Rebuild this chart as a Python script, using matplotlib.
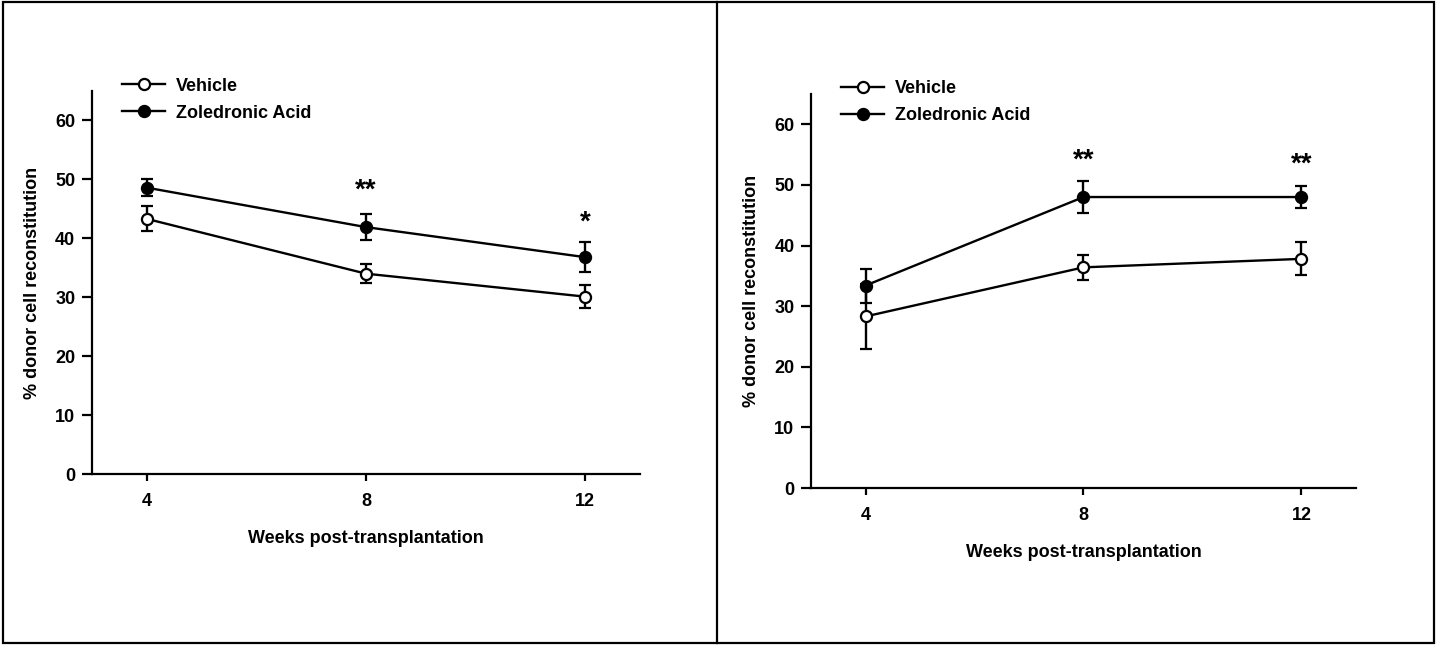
import numpy as np
import matplotlib
matplotlib.use("Agg")
import matplotlib.pyplot as plt
from matplotlib.lines import Line2D

plt.rcParams['font.family'] = ['Liberation Sans', 'DejaVu Sans']
plt.rcParams['font.weight'] = 'bold'

weeks = [4, 8, 12]

# left panel
veh_a = [43.3, 34.0, 30.1]
veh_a_err = [2.1, 1.6, 2.0]
zol_a = [48.6, 41.9, 36.8]
zol_a_err = [1.5, 2.2, 2.5]
stars_a = [(8, 48.1, '**'), (12, 42.7, '*')]

# right panel
veh_b = [28.3, 36.4, 37.8]
veh_b_err = [5.4, 2.1, 2.7]
zol_b = [33.4, 48.0, 48.0]
zol_b_err = [2.8, 2.7, 1.8]
stars_b = [(8, 54.0, '**'), (12, 53.4, '**')]

yticks = [0, 10, 20, 30, 40, 50, 60]


def draw(ax, veh, veh_err, zol, zol_err, stars):
    kw = dict(color='black', lw=1.7, elinewidth=1.7, capsize=4.5, capthick=1.7,
              markersize=8, markeredgewidth=1.6, markeredgecolor='black')
    ax.errorbar(weeks, veh, yerr=veh_err, fmt='-o', markerfacecolor='white', zorder=2, **kw)
    ax.errorbar(weeks, zol, yerr=zol_err, fmt='-o', markerfacecolor='black', zorder=3, **kw)
    for x, y, s in stars:
        ax.text(x, y, s, ha='center', va='center', fontsize=20, fontweight='bold')

    ax.set_xlim(3, 13)
    ax.set_ylim(0, 65)
    ax.set_xticks(weeks)
    ax.set_yticks(yticks)
    ax.spines['top'].set_visible(False)
    ax.spines['right'].set_visible(False)
    ax.spines['left'].set_linewidth(1.6)
    ax.spines['bottom'].set_linewidth(1.6)
    ax.tick_params(axis='y', direction='out', length=7, width=1.6, labelsize=13, pad=5)
    ax.tick_params(axis='x', direction='out', length=5, width=1.6, labelsize=13, pad=9)
    ax.set_xlabel('Weeks post-transplantation', fontsize=13, fontweight='bold', labelpad=14)
    ax.set_ylabel('% donor cell reconstitution', fontsize=13, fontweight='bold', labelpad=10)

    handles = [
        Line2D([], [], color='black', lw=1.7, marker='o', markersize=8,
               markerfacecolor='white', markeredgewidth=1.6),
        Line2D([], [], color='black', lw=1.7, marker='o', markersize=8,
               markerfacecolor='black', markeredgewidth=1.6),
    ]
    ax.legend(handles, ['Vehicle', 'Zoledronic Acid'], loc='upper left',
              bbox_to_anchor=(0.055, 1.035), frameon=False, handlelength=2.4,
              handletextpad=0.6, borderpad=0, borderaxespad=0, labelspacing=0.55,
              prop={'size': 13, 'weight': 'bold'})


fig = plt.figure(figsize=(14.37, 6.45), dpi=100)
ax1 = fig.add_axes([0.0640, 0.2651, 0.3814, 0.5938])
ax2 = fig.add_axes([0.5644, 0.2434, 0.3792, 0.6109])
draw(ax1, veh_a, veh_a_err, zol_a, zol_a_err, stars_a)
draw(ax2, veh_b, veh_b_err, zol_b, zol_b_err, stars_b)

# panel frames
fig.add_artist(plt.Rectangle((0.002, 0.003), 0.996, 0.994, transform=fig.transFigure,
                             fill=False, lw=1.6, edgecolor='black'))
fig.add_artist(Line2D([0.499, 0.499], [0.003, 0.997], transform=fig.transFigure,
                      color='black', lw=1.6))

fig.savefig('out.png', dpi=100)
